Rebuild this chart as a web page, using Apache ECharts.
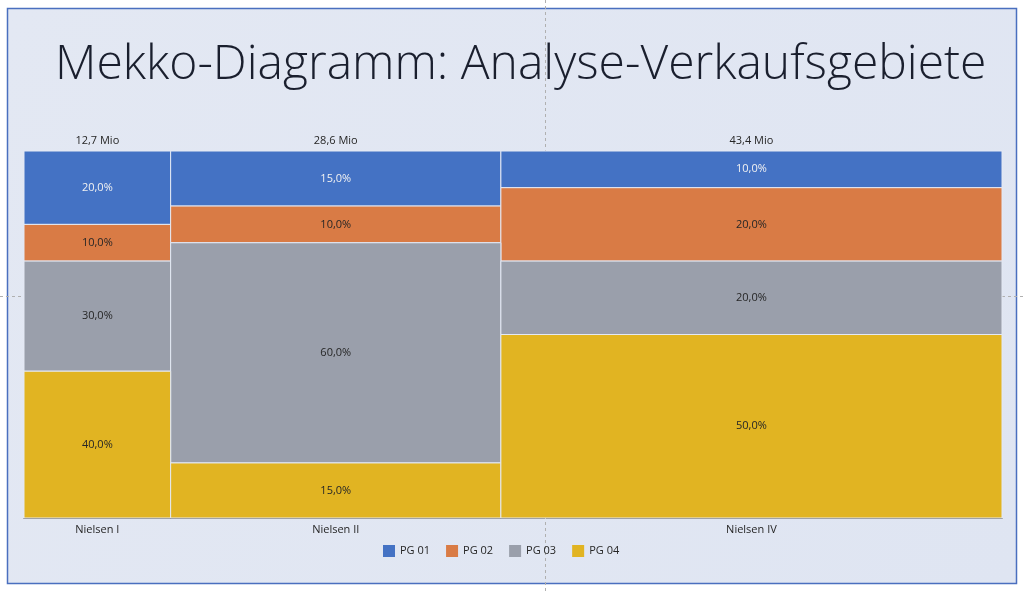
<!DOCTYPE html>
<html lang="de">
<head>
    <meta charset="UTF-8">
    <title>Mekko-Diagramm</title>
    <script type="text/javascript" src="https://cdn.jsdelivr.net/npm/echarts@6/dist/echarts.min.js"></script>
    <style>
        html, body {
            width: 100%;
            height: 100%;
            margin: 0;
            background: #fff;
        }
        #main {
            width: 1024px;
            height: 592px;
        }
    </style>
</head>
<body>
<div id="main"></div>
<script>
    // Verkaufsgebiete und Umsatz (Mio)
    var regions = ['Nielsen I', 'Nielsen II', 'Nielsen IV'];
    var volumes = [12.7, 28.6, 43.4];
    var volumeLabels = ['12,7 Mio', '28,6 Mio', '43,4 Mio'];
    // Anteile der Produktgruppen in % (von oben nach unten)
    var groups = ['PG 01', 'PG 02', 'PG 03', 'PG 04'];
    var pg01 = [20, 15, 10];
    var pg02 = [10, 10, 20];
    var pg03 = [30, 60, 20];
    var pg04 = [40, 15, 50];

    var colors = ['#4472c4', '#d97b45', '#9a9fab', '#e1b422'];
    var labelColors = ['#f2f2f2', '#262626', '#262626', '#262626'];
    var shares = [pg01, pg02, pg03, pg04];
    var totalVolume = volumes.reduce(function (a, b) { return a + b; }, 0);

    // Startposition jeder Spalte auf der x-Achse
    var starts = [];
    var acc = 0;
    volumes.forEach(function (v) {
        starts.push(acc);
        acc += v;
    });

    function fmt(v) {
        return v.toFixed(1).replace('.', ',') + '%';
    }

    // Untergrenze eines Segments: Summe der darunter liegenden Gruppen
    function baseOf(g, i) {
        var b = 0;
        for (var k = g + 1; k < shares.length; k++) b += shares[k][i];
        return b;
    }

    var seriesList = groups.map(function (name, g) {
        return {
            name: name,
            type: 'custom',
            z: 2,
            itemStyle: { color: colors[g] },
            data: regions.map(function (r, i) {
                return [starts[i], volumes[i], baseOf(g, i), shares[g][i]];
            }),
            renderItem: function (params, api) {
                var x0 = api.value(0), w = api.value(1), y0 = api.value(2), h = api.value(3);
                var p0 = api.coord([x0, y0 + h]);
                var p1 = api.coord([x0 + w, y0]);
                return {
                    type: 'rect',
                    shape: { x: p0[0], y: p0[1], width: p1[0] - p0[0], height: p1[1] - p0[1] },
                    style: {
                        fill: colors[g],
                        stroke: '#e4e9f4',
                        lineWidth: 1
                    },
                    textContent: {
                        style: {
                            text: fmt(h),
                            fill: labelColors[g],
                            fontSize: 11,
                            fontFamily: 'Open Sans'
                        }
                    },
                    textConfig: { position: 'inside' }
                };
            },
            encode: { x: [0], y: [2] }
        };
    });

    // Beschriftung: Umsatz oben, Gebiet unten
    seriesList.push({
        name: 'labels',
        type: 'custom',
        silent: true,
        z: 2,
        data: regions.map(function (r, i) {
            return [starts[i] + volumes[i] / 2, i];
        }),
        renderItem: function (params, api) {
            var i = api.value(1);
            var top = api.coord([api.value(0), 100]);
            var bottom = api.coord([api.value(0), 0]);
            return {
                type: 'group',
                children: [
                    {
                        type: 'text',
                        style: {
                            x: top[0], y: top[1] - 10, text: volumeLabels[i],
                            fill: '#262626', fontSize: 11, fontFamily: 'Open Sans',
                            align: 'center', verticalAlign: 'middle'
                        }
                    },
                    {
                        type: 'text',
                        style: {
                            x: bottom[0], y: bottom[1] + 12, text: regions[i],
                            fill: '#262626', fontSize: 11, fontFamily: 'Open Sans',
                            align: 'center', verticalAlign: 'middle'
                        }
                    }
                ]
            };
        }
    });

    var chart = echarts.init(document.getElementById('main'));
    var option = {
        backgroundColor: '#ffffff',
        animation: false,
        title: {
            text: 'Mekko-Diagramm: Analyse-Verkaufsgebiete',
            left: 50,
            top: 36,
            textStyle: {
                fontFamily: 'Open Sans',
                fontWeight: 300,
                fontSize: 48,
                color: '#1a1f2e'
            }
        },
        graphic: [
            {
                type: 'rect',
                z: 0,
                shape: { x: 7.5, y: 8.5, width: 1009, height: 575 },
                style: {
                    fill: new echarts.graphic.LinearGradient(0, 0, 1, 1, [
                        { offset: 0, color: '#e3e8f3' },
                        { offset: 1, color: '#dfe5f2' }
                    ]),
                    stroke: '#4a6fbf',
                    lineWidth: 1.5
                }
            },
            {
                type: 'line',
                z: 1,
                shape: { x1: 545.5, y1: 0, x2: 545.5, y2: 592 },
                style: { stroke: '#b0b0b0', lineWidth: 1, lineDash: [3, 3] }
            },
            {
                type: 'line',
                z: 1,
                shape: { x1: 0, y1: 296.5, x2: 1024, y2: 296.5 },
                style: { stroke: '#b0b0b0', lineWidth: 1, lineDash: [3, 3] }
            }
        ],
        legend: {
            data: groups,
            left: 378,
            top: 540,
            icon: 'rect',
            itemWidth: 12,
            itemHeight: 12,
            itemGap: 16,
            textStyle: { fontFamily: 'Open Sans', fontSize: 11, color: '#262626' }
        },
        grid: {
            left: 24,
            right: 22,
            top: 151,
            bottom: 74
        },
        xAxis: {
            type: 'value',
            min: 0,
            max: totalVolume,
            axisLine: { show: true, lineStyle: { color: '#5a5a5a', width: 1 } },
            axisTick: { show: false },
            axisLabel: { show: false },
            splitLine: { show: false }
        },
        yAxis: {
            type: 'value',
            min: 0,
            max: 100,
            show: false,
            splitLine: { show: false }
        },
        series: seriesList
    };
    chart.setOption(option);
</script>
</body>
</html>
